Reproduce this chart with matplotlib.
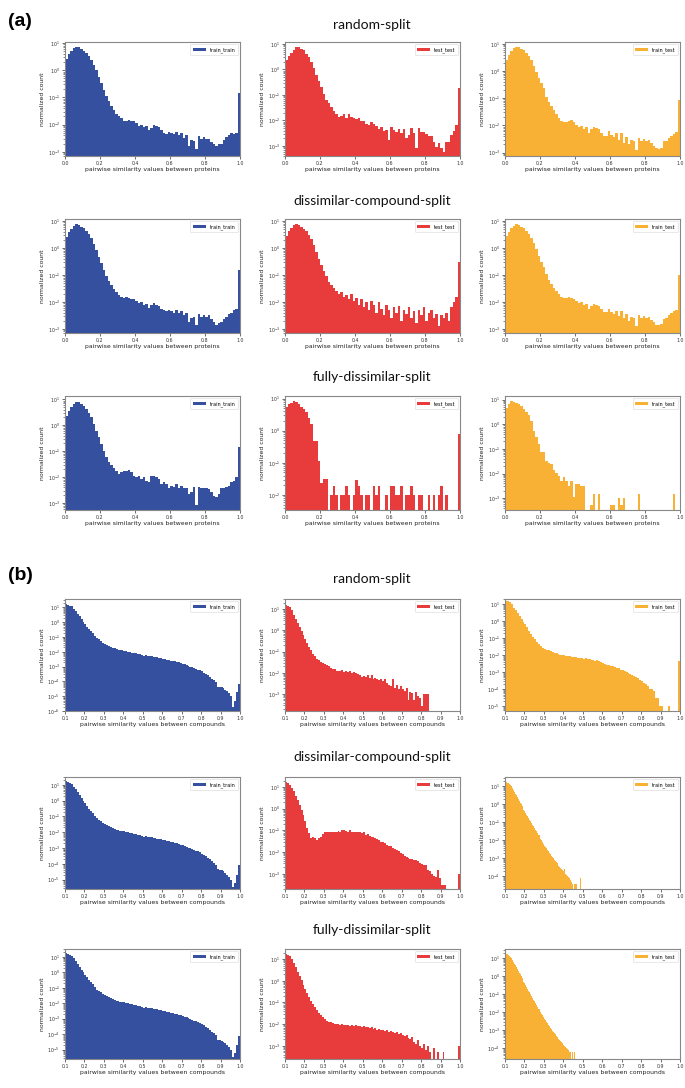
import numpy as np
import matplotlib
matplotlib.use("Agg")
import matplotlib.pyplot as plt
from matplotlib.ticker import LogLocator, FixedLocator

# ------------------------------------------------------------------
# DATA  (log10 of the normalized count in each histogram bin, None = empty bin)
# protein panels: 70 bins on [0, 1]
# compound panels: 0.01-wide bins from 0.1 (train_test of the dissimilar
# and fully-dissimilar splits: 0.005-wide bins from 0.1)
# ------------------------------------------------------------------
split_titles = ["random-split", "dissimilar-compound-split", "fully-dissimilar-split"]
series_labels = ["train_train", "test_test", "train_test"]
protein_xlabel = "pairwise similarity values between proteins"
compound_xlabel = "pairwise similarity values between compounds"
protein_xticks = [0.0, 0.2, 0.4, 0.6, 0.8, 1.0]
compound_xticks = [0.1, 0.2, 0.3, 0.4, 0.5, 0.6, 0.7, 0.8, 0.9, 1.0]

a_random_train_train = [
    0.43, 0.6, 0.72, 0.82, 0.85, 0.84, 0.78, 0.72, 0.63, 0.54,
    0.39, 0.21, 0.0, -0.24, -0.46, -0.71, -0.95, -1.13, -1.3, -1.48,
    -1.62, -1.7, -1.77, -1.87, -1.85, -1.82, -1.88, -1.85, -1.95, -2.05,
    -2.02, -2.1, -2.05, -2.2, -2.11, -2.02, -2.05, -2.1, -2.2, -2.3,
    -2.35, -2.26, -2.3, -2.35, -2.26, -2.38, -2.3, -2.48, -2.37, -2.78,
    -2.58, -2.6, -2.9, -2.41, -2.52, -2.46, -2.52, -2.52, -2.64, -2.72,
    -2.8, -2.72, -2.72, -2.57, -2.46, -2.38, -2.3, -2.35, -2.3, -0.85]
a_random_test_test = [
    0.37, 0.53, 0.64, 0.77, 0.87, 0.87, 0.8, 0.75, 0.61, 0.48,
    0.31, 0.04, -0.23, -0.45, -0.69, -0.96, -1.2, -1.33, -1.47, -1.63,
    -1.76, -1.87, -1.83, -1.76, -1.89, -1.76, -1.87, -1.92, -1.96, -1.92,
    -2.03, -2.03, -2.16, -2.19, -2.05, -2.16, -2.23, -2.32, -2.27, -2.4,
    -2.36, -2.76, -2.27, -2.36, -2.45, -2.32, -2.49, -2.32, -2.69, -2.59,
    -2.29, -2.49, -3.07, -2.29, -2.45, -2.45, -2.53, -2.63, -2.63, -2.83,
    -3.03, -2.89, -3.09, -3.25, -2.83, -2.83, -2.56, -2.4, -2.19, -0.72]
a_random_train_test = [
    0.42, 0.6, 0.73, 0.83, 0.89, 0.88, 0.81, 0.76, 0.66, 0.54,
    0.39, 0.2, -0.02, -0.27, -0.43, -0.64, -0.95, -1.14, -1.3, -1.45,
    -1.57, -1.72, -1.84, -1.88, -1.88, -1.84, -1.8, -1.88, -1.97, -2.07,
    -2.01, -2.13, -2.04, -2.29, -2.15, -2.04, -2.09, -2.13, -2.29, -2.38,
    -2.38, -2.22, -2.34, -2.44, -2.29, -2.54, -2.29, -2.66, -2.44, -2.69,
    -2.54, -2.59, -2.91, -2.47, -2.57, -2.5, -2.57, -2.54, -2.66, -2.75,
    -2.84, -2.87, -2.84, -2.57, -2.57, -2.47, -2.38, -2.32, -2.26, -1.05]

a_dissimilar_train_train = [
    0.4, 0.58, 0.72, 0.83, 0.88, 0.86, 0.8, 0.73, 0.63, 0.52,
    0.36, 0.15, -0.08, -0.33, -0.55, -0.8, -1.02, -1.22, -1.38, -1.52,
    -1.65, -1.75, -1.8, -1.85, -1.82, -1.85, -1.9, -1.88, -1.98, -2.05,
    -2.0, -2.1, -2.08, -2.22, -2.12, -2.05, -2.1, -2.15, -2.25, -2.3,
    -2.35, -2.3, -2.32, -2.4, -2.3, -2.42, -2.35, -2.5, -2.42, -2.75,
    -2.6, -2.55, -2.85, -2.45, -2.55, -2.5, -2.55, -2.5, -2.65, -2.75,
    -2.85, -2.8, -2.75, -2.65, -2.55, -2.45, -2.4, -2.3, -2.25, -0.8]
a_dissimilar_test_test = [
    0.45, 0.62, 0.75, 0.86, 0.9, 0.87, 0.8, 0.72, 0.62, 0.5,
    0.33, 0.1, -0.15, -0.4, -0.62, -0.85, -1.05, -1.25, -1.38, -1.5,
    -1.6, -1.72, -1.65, -1.8, -1.75, -1.9, -1.7, -1.95, -1.85, -2.1,
    -1.9, -2.2, -2.0, -2.3, -1.95, -2.1, -2.4, -2.0, -2.25, -2.5,
    -2.1, -2.3, -2.6, -2.2, -2.4, -2.15, -2.7, -2.3, -2.45, -2.2,
    -2.6, -2.35, -2.8, -2.3, -2.5, -2.2, -2.7, -2.4, -2.3, -2.6,
    -2.45, -2.9, -2.5, -2.6, -2.4, -2.7, -2.2, -2.0, -1.8, -0.5]
a_dissimilar_train_test = [
    0.43, 0.6, 0.73, 0.83, 0.88, 0.87, 0.8, 0.74, 0.64, 0.52,
    0.37, 0.17, -0.05, -0.3, -0.5, -0.72, -0.98, -1.18, -1.34, -1.48,
    -1.6, -1.72, -1.82, -1.86, -1.85, -1.82, -1.86, -1.9, -1.98, -2.05,
    -2.02, -2.12, -2.06, -2.25, -2.15, -2.08, -2.12, -2.15, -2.28, -2.36,
    -2.38, -2.28, -2.36, -2.45, -2.32, -2.52, -2.35, -2.6, -2.45, -2.7,
    -2.55, -2.6, -2.9, -2.5, -2.58, -2.52, -2.6, -2.55, -2.68, -2.75,
    -2.85, -2.85, -2.82, -2.62, -2.58, -2.5, -2.42, -2.35, -2.3, -1.0]

a_fully_train_train = [
    0.36, 0.55, 0.71, 0.83, 0.91, 0.88, 0.83, 0.74, 0.62, 0.49,
    0.32, 0.06, -0.22, -0.47, -0.73, -0.99, -1.22, -1.4, -1.53, -1.65,
    -1.78, -1.86, -1.82, -1.76, -1.76, -1.73, -1.82, -1.95, -2.01, -1.95,
    -2.08, -2.01, -2.14, -2.2, -1.95, -1.97, -1.99, -2.08, -2.27, -2.2,
    -2.27, -2.4, -2.33, -2.37, -2.27, -2.4, -2.33, -2.4, -2.4, -2.65,
    -2.59, -2.37, -3.06, -2.37, -2.4, -2.42, -2.4, -2.46, -2.59, -2.72,
    -2.78, -2.65, -2.42, -2.4, -2.37, -2.33, -2.2, -2.14, -2.01, -0.83]
a_fully_test_test = [
    0.74, 0.82, 0.86, 0.92, 0.9, 0.82, 0.74, 0.68, 0.58, 0.4,
    0.21, -0.32, -0.32, -0.95, -1.63, -1.5, -1.5, None, -2.0, -1.72,
    -2.0, None, -2.0, -2.0, -1.72, -2.0, None, -2.0, -1.52, -1.72,
    -2.0, None, -2.0, -2.0, None, -1.72, -2.0, -1.72, None, None,
    -2.0, None, -1.72, -1.72, -2.0, -2.0, -1.72, None, -2.0, -2.0,
    -1.72, -2.0, None, -2.0, -2.0, None, None, -2.0, None, -2.0,
    None, -2.0, -1.72, None, -2.0, None, None, None, None, -0.1]
a_fully_train_test = [
    0.67, 0.81, 0.95, 0.92, 0.86, 0.81, 0.73, 0.63, 0.49, 0.36,
    0.12, -0.29, -0.53, -0.81, -1.11, -1.11, -1.5, -1.56, -1.6, -1.84,
    -1.97, -2.11, -2.29, -2.15, -2.29, -2.52, -2.29, -2.97, -2.42, -2.42,
    -2.52, -2.52, None, None, -3.27, -2.84, None, -2.84, None, None,
    None, None, -3.27, -3.27, None, -3.0, -3.27, -3.0, None, None,
    None, None, None, -2.84, None, None, None, None, None, None,
    None, None, None, None, None, None, None, -2.84, None, None]

b_random_train_train = [
    1.2, 1.18, 1.12, 1.07, 0.9, 0.73, 0.55, 0.39, 0.2, 0.02,
    -0.14, -0.3, -0.48, -0.6, -0.75, -0.95, -1.1, -1.16, -1.27, -1.39,
    -1.45, -1.52, -1.6, -1.68, -1.75, -1.77, -1.82, -1.85, -1.88, -1.9,
    -1.93, -1.96, -2.0, -2.02, -2.05, -2.07, -2.1, -2.13, -2.16, -2.19,
    -2.28, -2.24, -2.26, -2.28, -2.31, -2.33, -2.35, -2.38, -2.4, -2.43,
    -2.48, -2.5, -2.53, -2.56, -2.59, -2.62, -2.65, -2.68, -2.72, -2.76,
    -2.8, -2.85, -2.9, -2.95, -3.0, -3.05, -3.1, -3.15, -3.2, -3.25,
    -3.32, -3.4, -3.5, -3.6, -3.7, -3.82, -3.93, -4.05, -4.4, -4.4,
    -4.4, -4.45, -4.57, -4.68, -4.8, -5.0, -5.75, -5.3, -4.7, -4.15]
b_random_test_test = [
    1.2, 1.17, 1.09, 0.94, 0.73, 0.53, 0.34, 0.16, -0.05, -0.2,
    -0.4, -0.6, -0.78, -0.94, -1.1, -1.22, -1.34, -1.4, -1.5, -1.55,
    -1.6, -1.65, -1.7, -1.75, -1.84, -1.84, -1.92, -1.89, -1.92, -1.87,
    -1.95, -1.92, -1.97, -1.92, -2.0, -1.97, -2.0, -2.07, -2.12, -2.19,
    -2.16, -2.19, -2.12, -2.22, -2.12, -2.28, -2.23, -2.31, -2.34, -2.28,
    -2.39, -2.31, -2.5, -2.55, -2.62, -2.3, -2.7, -2.55, -2.75, -2.62,
    -2.78, -2.86, -2.7, -3.26, -2.92, -2.95, -3.26, -2.88, -3.08, -3.18,
    -3.58, -3.0, -3.0, -3.0, None, None, None, None, None, None,
    None, None, None, None, None, None, None, None, None, None]
b_random_train_test = [
    1.2, 1.17, 1.1, 1.0, 0.8, 0.65, 0.49, 0.29, 0.12, -0.02,
    -0.16, -0.37, -0.57, -0.73, -0.9, -1.04, -1.24, -1.35, -1.47, -1.57,
    -1.61, -1.67, -1.71, -1.76, -1.82, -1.86, -1.88, -1.92, -1.96, -1.98,
    -1.99, -2.02, -2.03, -2.06, -2.08, -2.09, -2.12, -2.13, -2.16, -2.17,
    -2.22, -2.18, -2.21, -2.23, -2.25, -2.28, -2.32, -2.3, -2.36, -2.42,
    -2.47, -2.51, -2.55, -2.56, -2.61, -2.63, -2.7, -2.72, -2.76, -2.86,
    -2.88, -2.95, -3.0, -3.05, -3.1, -3.15, -3.2, -3.25, -3.35, -3.45,
    -3.5, -3.6, -3.7, -3.8, -3.95, -4.0, -4.1, -4.5, -4.5, -4.97,
    -4.97, None, None, None, -4.97, None, None, None, None, -2.33]

b_dissimilar_train_train = [
    1.22, 1.19, 1.13, 1.06, 0.9, 0.72, 0.54, 0.37, 0.18, 0.0,
    -0.16, -0.33, -0.5, -0.63, -0.78, -0.97, -1.12, -1.2, -1.3, -1.4,
    -1.47, -1.54, -1.62, -1.69, -1.75, -1.79, -1.83, -1.86, -1.89, -1.92,
    -1.95, -1.98, -2.01, -2.04, -2.06, -2.09, -2.12, -2.15, -2.18, -2.21,
    -2.3, -2.26, -2.28, -2.3, -2.33, -2.35, -2.37, -2.4, -2.42, -2.45,
    -2.5, -2.52, -2.55, -2.58, -2.61, -2.64, -2.67, -2.7, -2.74, -2.78,
    -2.82, -2.87, -2.92, -2.97, -3.02, -3.07, -3.12, -3.17, -3.22, -3.28,
    -3.35, -3.42, -3.52, -3.62, -3.72, -3.84, -3.95, -4.08, -4.35, -4.4,
    -4.42, -4.48, -4.58, -4.7, -4.82, -5.0, -5.45, -5.2, -4.7, -4.1]
b_dissimilar_test_test = [
    1.22, 1.18, 1.1, 0.95, 0.8, 0.6, 0.38, 0.18, -0.05, -0.28,
    -0.58, -0.89, -1.12, -1.35, -1.28, -1.35, -1.43, -1.35, -1.28, -1.17,
    -1.09, -1.09, -1.06, -1.06, -1.09, -1.05, -1.06, -1.02, -1.05, -1.0,
    -0.97, -1.02, -1.05, -1.0, -1.06, -1.05, -1.05, -1.08, -1.06, -1.12,
    -1.09, -1.2, -1.15, -1.25, -1.28, -1.31, -1.35, -1.4, -1.46, -1.51,
    -1.55, -1.58, -1.66, -1.71, -1.74, -1.82, -1.86, -1.89, -1.97, -2.02,
    -2.08, -2.17, -2.23, -2.28, -2.32, -2.32, -2.38, -2.35, -2.43, -2.48,
    -2.54, -2.58, -2.58, -2.82, -2.85, -3.0, -3.1, -3.15, -2.82, -3.2,
    -3.5, -3.5, -3.5, None, None, None, None, None, None, -3.0]
b_dissimilar_train_test = [
    1.22, 1.22, 1.2, 1.17, 1.12, 1.07, 1.0, 0.9, 0.8, 0.7,
    0.6, 0.5, 0.4, 0.3, 0.2, 0.1, 0.0, -0.1, -0.19, -0.29,
    -0.39, -0.48, -0.57, -0.66, -0.75, -0.85, -0.94, -1.03, -1.12, -1.21,
    -1.31, -1.41, -1.5, -1.6, -1.7, -1.72, -1.9, -2.0, -2.1, -2.2,
    -2.3, -2.38, -2.45, -2.53, -2.6, -2.68, -2.76, -2.84, -2.92, -3.0,
    -3.07, -3.13, -3.2, -3.26, -3.33, -3.4, -3.45, -3.52, -3.58, -3.65,
    -3.72, -3.6, -3.85, -3.9, -4.0, -4.05, -4.1, -4.2, -4.3, -4.4,
    None, -4.4, -4.4, -4.4, None, None, None, -4.1, None, None]

b_fully_train_train = [
    1.22, 1.19, 1.13, 1.06, 0.9, 0.72, 0.54, 0.37, 0.18, 0.0,
    -0.16, -0.33, -0.5, -0.63, -0.78, -0.97, -1.12, -1.2, -1.3, -1.4,
    -1.47, -1.54, -1.62, -1.69, -1.75, -1.79, -1.83, -1.86, -1.89, -1.92,
    -1.95, -1.98, -2.01, -2.04, -2.06, -2.09, -2.12, -2.15, -2.18, -2.21,
    -2.3, -2.26, -2.28, -2.3, -2.33, -2.35, -2.37, -2.4, -2.42, -2.45,
    -2.5, -2.52, -2.55, -2.58, -2.61, -2.64, -2.67, -2.7, -2.74, -2.78,
    -2.82, -2.87, -2.92, -2.97, -3.02, -3.07, -3.12, -3.17, -3.22, -3.28,
    -3.35, -3.42, -3.52, -3.62, -3.72, -3.84, -3.95, -4.08, -4.35, -4.4,
    -4.42, -4.48, -4.58, -4.7, -4.82, -5.0, -5.45, -5.2, -4.7, -4.1]
b_fully_test_test = [
    1.25, 1.2, 1.12, 1.0, 0.82, 0.62, 0.42, 0.22, 0.02, -0.18,
    -0.38, -0.58, -0.75, -0.92, -1.08, -1.22, -1.35, -1.47, -1.58, -1.68,
    -1.76, -1.83, -1.88, -1.92, -1.95, -1.98, -2.0, -1.98, -2.02, -2.0,
    -2.03, -2.05, -2.02, -2.06, -2.04, -2.08, -2.05, -2.1, -2.08, -2.12,
    -2.1, -2.15, -2.12, -2.18, -2.15, -2.2, -2.18, -2.25, -2.22, -2.28,
    -2.25, -2.3, -2.28, -2.35, -2.32, -2.38, -2.4, -2.36, -2.45, -2.42,
    -2.5, -2.55, -2.5, -2.62, -2.7, -2.6, -2.8, -2.9, -2.75, -3.0,
    -3.1, -2.9, -3.2, -3.0, -3.3, None, -3.1, None, -3.3, None,
    None, -3.3, None, None, None, None, None, None, None, -3.0]
b_fully_train_test = [
    1.22, 1.22, 1.2, 1.17, 1.12, 1.06, 0.98, 0.9, 0.8, 0.7,
    0.6, 0.5, 0.4, 0.3, 0.2, 0.1, 0.0, -0.1, -0.2, -0.3,
    -0.4, -0.5, -0.6, -0.7, -0.8, -0.9, -1.0, -1.1, -1.2, -1.3,
    -1.4, -1.5, -1.6, -1.7, -1.8, -1.85, -1.98, -2.08, -2.18, -2.28,
    -2.38, -2.46, -2.54, -2.62, -2.7, -2.78, -2.86, -2.94, -3.02, -3.1,
    -3.17, -3.24, -3.3, -3.37, -3.44, -3.5, -3.56, -3.62, -3.68, -3.74,
    -3.8, -3.86, -3.92, -3.98, -4.05, -4.12, -4.2, -4.2, None, -4.2,
    None, -4.2, None, None, None, None, None, None, None, None]

# y-axis limits of each panel (normalized count)
a_ylims = [[(7e-4, 11), (4e-4, 12), (7.5e-4, 11.7)],
           [(7e-4, 12), (7e-4, 12), (7e-4, 12)],
           [(5.4e-4, 13.5), (3.4e-3, 12), (3.3e-4, 14)]]
b_ylims = [[(1e-6, 37), (1.6e-4, 30), (5.4e-6, 20)],
           [(2.5e-6, 32), (2.0e-4, 29), (2.0e-5, 33)],
           [(2.5e-6, 32), (2.5e-4, 29), (2.5e-5, 32)]]

# ------------------------------------------------------------------
colors = ["#34509e", "#e83b3c", "#f8b135"]
W, H = 685, 1088
fig = plt.figure(figsize=(W / 100, H / 100), dpi=100)

def add_ax(x, y, w, h):
    return fig.add_axes([x / W, 1 - (y + h) / H, w / W, h / H])

def draw(ax, edges, logvals, color, label, ylim, xlim, xticks, xlabel):
    v = np.array([np.nan if t is None else t for t in logvals], dtype=float)
    heights = 10.0 ** v
    left = edges[:-1][:len(v)]
    widths = np.diff(edges)[:len(v)]
    m = ~np.isnan(heights)
    ax.bar(left[m], heights[m], width=widths[m], align="edge", color=color,
           linewidth=0, label=label, antialiased=True)
    ax.set_yscale("log")
    ax.set_ylim(*ylim)
    ax.set_xlim(*xlim)
    ax.xaxis.set_major_locator(FixedLocator(xticks))
    ax.set_xticklabels([f"{t:.1f}" for t in xticks])
    ax.yaxis.set_major_locator(LogLocator(base=10, numticks=30))
    ax.yaxis.set_minor_locator(LogLocator(base=10, subs=np.arange(2, 10) * 0.1, numticks=30))
    ax.tick_params(axis="both", which="major", labelsize=3.4, length=2, width=0.5,
                   pad=1.5, colors="#333333")
    ax.tick_params(axis="y", which="minor", length=1.2, width=0.4, colors="#333333")
    for s in ax.spines.values():
        s.set_color("#888888")
        s.set_linewidth(0.8)
    ax.set_xlabel(xlabel, fontsize=4.4, labelpad=1.0, color="#222222")
    ax.set_ylabel("normalized count", fontsize=4.4, labelpad=1.5, color="#222222")
    leg = ax.legend(loc="upper right", fontsize=3.5, frameon=True, handlelength=2.6,
                    handleheight=0.6, borderpad=0.5, fancybox=True)
    leg.get_frame().set_linewidth(0.4)
    leg.get_frame().set_edgecolor("#cccccc")

protein_edges = np.linspace(0.0, 1.0, 71)
compound_edges = np.linspace(0.1, 1.0, 91)
compound_fine_edges = np.linspace(0.1, 1.0, 181)

col_x = [65, 285, 505]
col_w = 175

a_data = [[a_random_train_train, a_random_test_test, a_random_train_test],
          [a_dissimilar_train_train, a_dissimilar_test_test, a_dissimilar_train_test],
          [a_fully_train_train, a_fully_test_test, a_fully_train_test]]
b_data = [[b_random_train_train, b_random_test_test, b_random_train_test],
          [b_dissimilar_train_train, b_dissimilar_test_test, b_dissimilar_train_test],
          [b_fully_train_train, b_fully_test_test, b_fully_train_test]]

a_row_top = [42, 219, 396]
a_row_h = 114
a_title_y = [25, 201, 377]
b_row_top = [599, 777, 949]
b_row_h = [112, 112, 110]
b_title_y = [579, 757, 930]

title_font = dict(fontsize=10, family=["Lato", "DejaVu Sans"], ha="center", va="center",
                  color="#111111")

for r in range(3):
    fig.text(372 / W, 1 - a_title_y[r] / H, split_titles[r], **title_font)
    for c in range(3):
        ax = add_ax(col_x[c], a_row_top[r], col_w, a_row_h)
        draw(ax, protein_edges, a_data[r][c], colors[c], series_labels[c],
             a_ylims[r][c], (0.0, 1.0), protein_xticks, protein_xlabel)

for r in range(3):
    fig.text(372 / W, 1 - b_title_y[r] / H, split_titles[r], **title_font)
    for c in range(3):
        ax = add_ax(col_x[c], b_row_top[r], col_w, b_row_h[r])
        edges = compound_fine_edges if (c == 2 and r > 0) else compound_edges
        draw(ax, edges, b_data[r][c], colors[c], series_labels[c],
             b_ylims[r][c], (0.1, 1.0), compound_xticks, compound_xlabel)

fig.text(8 / W, 1 - 22 / H, "(a)", fontsize=14, fontweight="bold",
         family=["Liberation Sans", "DejaVu Sans"], ha="left", va="center")
fig.text(8 / W, 1 - 576 / H, "(b)", fontsize=14, fontweight="bold",
         family=["Liberation Sans", "DejaVu Sans"], ha="left", va="center")

fig.savefig("out.png", dpi=100)
